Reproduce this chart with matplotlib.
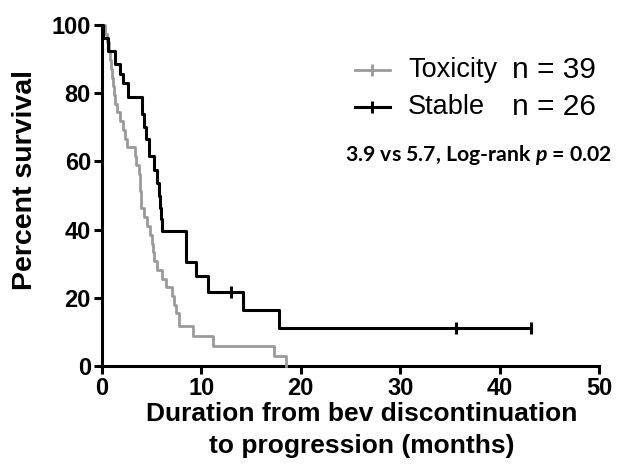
import numpy as np
import matplotlib
matplotlib.use("Agg")
import matplotlib.pyplot as plt
from matplotlib.lines import Line2D

# ---- data ----
tox_times = [0.3, 0.5, 0.7, 0.8, 0.9, 1.0, 1.1, 1.2, 1.3, 1.5, 1.8, 2.1, 2.3, 2.5,
             3.3, 3.4, 3.7, 3.8, 3.85, 3.9, 3.95, 4.2, 4.5, 4.8, 5.0, 5.1, 5.2, 5.5,
             6.0, 6.4, 7.0, 7.2, 7.4, 7.7, 9.2, 11.2, 17.3, 18.5]
tox_surv = [97.4, 94.9, 92.3, 89.7, 87.2, 84.6, 82.1, 79.5, 76.9, 74.4, 71.8, 69.2, 66.7, 64.1,
            61.5, 59.0, 56.4, 53.8, 51.3, 48.7, 46.2, 43.6, 41.0, 38.5, 35.9, 33.3, 30.8, 28.2,
            25.6, 23.1, 20.5, 17.9, 15.4, 11.8, 8.8, 5.9, 2.9, 0.0]
tox_censor = []
tox_end = 18.5

stb_times = [0.15, 0.6, 1.3, 1.8, 2.1, 2.6, 4.0, 4.2, 4.4, 4.7, 5.2, 5.5, 5.7, 5.8, 5.9, 6.0,
             8.5, 9.5, 10.7, 14.2, 17.8]
stb_surv = [96.2, 92.3, 88.5, 85.5, 83.0, 79.0, 73.8, 70.2, 66.5, 61.6, 57.5, 53.8, 50.0, 46.2, 43.0, 39.5,
            30.5, 26.5, 21.8, 16.3, 11.1]
stb_censor = [13.0, 35.6, 43.2]
stb_end = 43.2

x_ticks = [0, 10, 20, 30, 40, 50]
y_ticks = [0, 20, 40, 60, 80, 100]
labels = ["Toxicity", "Stable"]
n_labels = ["n = 39", "n = 26"]
stat_text = r"3.9 vs 5.7, Log-rank $\boldsymbol{p}$ = 0.02"

GREY = "#9a9a9a"
BLACK = "#000000"

plt.rcParams['font.family'] = ['Liberation Sans', 'DejaVu Sans']
plt.rcParams['mathtext.fontset'] = 'custom'
plt.rcParams['mathtext.bfit'] = 'Lato:bold:italic'
plt.rcParams['mathtext.it'] = 'Lato:bold:italic'

W, H = 618, 475
fig = plt.figure(figsize=(W/100, H/100), dpi=100)
ax = fig.add_axes([102/W, 1-366/H, (599-102)/W, (366-25)/H])


def step_arrays(times, surv, end):
    t = np.concatenate([[0.0], np.asarray(times, float), [end]])
    s = np.concatenate([[100.0], np.asarray(surv, float), [surv[-1]]])
    return t, s


def value_at(times, surv, t):
    idx = np.searchsorted(np.asarray(times), t, side='right') - 1
    return 100.0 if idx < 0 else surv[idx]


t, s = step_arrays(tox_times, tox_surv, tox_end)
ax.step(t, s, where='post', color=GREY, lw=2.0, zorder=3, clip_on=False)
t, s = step_arrays(stb_times, stb_surv, stb_end)
ax.step(t, s, where='post', color=BLACK, lw=2.2, zorder=4, clip_on=False)
for c in stb_censor:
    ax.plot([c], [value_at(stb_times, stb_surv, c)], marker='|', ms=9, mew=2.2,
            color=BLACK, zorder=5, clip_on=False)
for c in tox_censor:
    ax.plot([c], [value_at(tox_times, tox_surv, c)], marker='|', ms=9, mew=2.0,
            color=GREY, zorder=5, clip_on=False)

ax.set_xlim(0, 50)
ax.set_ylim(0, 100)
ax.set_xticks(x_ticks)
ax.set_yticks(y_ticks)
for sp in ['top', 'right']:
    ax.spines[sp].set_visible(False)
for sp in ['left', 'bottom']:
    ax.spines[sp].set_linewidth(2.2)
ax.tick_params(axis='both', direction='out', length=6, width=2.2, labelsize=17, pad=2)
for lab in ax.get_xticklabels() + ax.get_yticklabels():
    lab.set_fontweight('bold')

ax.set_xlabel("Duration from bev discontinuation\nto progression (months)",
              fontsize=19, fontweight='bold', linespacing=1.4)
ax.xaxis.set_label_coords((362-102)/497, (366-458)/341)
ax.xaxis.label.set_va('bottom')
ax.set_ylabel("Percent survival", fontsize=20.5, fontweight='bold')
ax.yaxis.set_label_coords((38-102)/497, (366-180)/341)

# legend, drawn by hand in figure pixels
rows_y = [70, 107]
colors = [GREY, BLACK]
lws = [2.0, 2.2]
for y, col, lw, lab, nl in zip(rows_y, colors, lws, labels, n_labels):
    fy = 1 - y/H
    fig.add_artist(Line2D([355/W, 390/W], [fy, fy], color=col, lw=lw,
                          transform=fig.transFigure))
    fig.add_artist(Line2D([372/W], [fy], color=col, marker='|', ms=9, mew=lw,
                          transform=fig.transFigure))
    fig.text(408/W, fy, lab, fontsize=19.5, va='center', ha='left')
    fig.text(512/W, fy, nl, fontsize=21.5, va='center', ha='left')

fig.text(479/W, 1-155/H, stat_text, fontsize=15.3, va='center', ha='center',
         family=['Lato', 'DejaVu Sans'], fontweight='bold')

fig.savefig("out.png", dpi=100)
